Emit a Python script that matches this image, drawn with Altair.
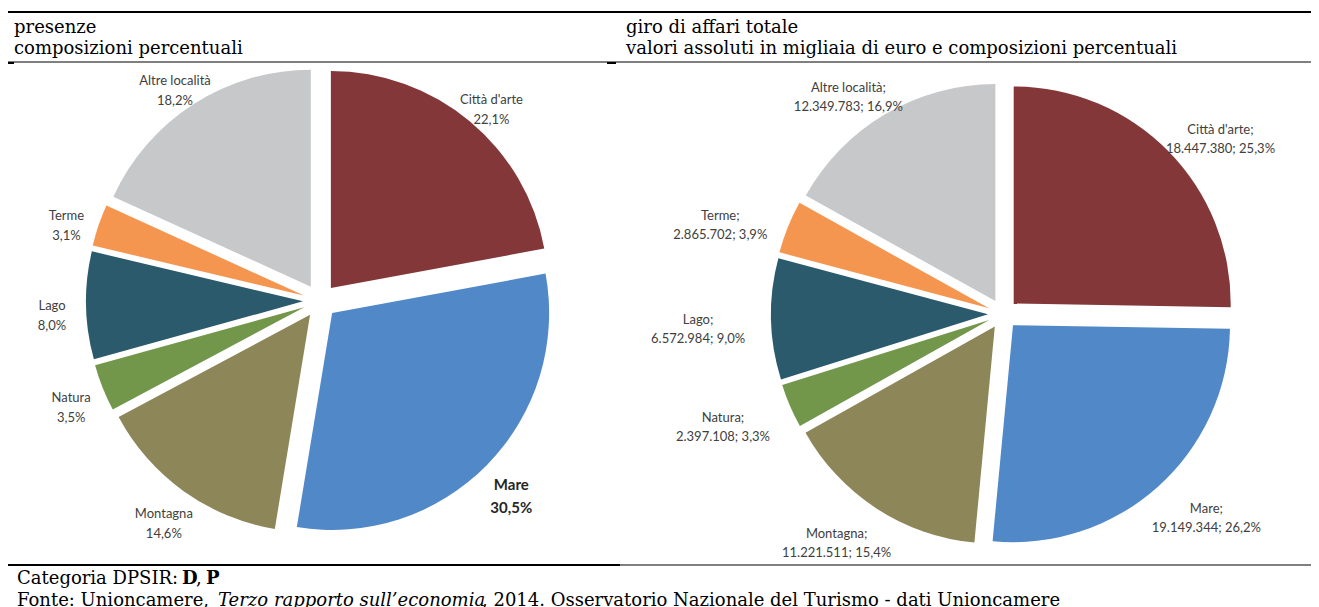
import altair as alt
import pandas as pd

# ---------------- data ----------------
CATEGORIES = ["Città d'arte", "Mare", "Montagna", "Natura", "Lago", "Terme", "Altre località"]
PRESENZE_PCT = [22.1, 30.5, 14.6, 3.5, 8.0, 3.1, 18.2]
GIRO_VALORI = [18447380, 19149344, 11221511, 2397108, 6572984, 2865702, 12349783]
GIRO_PCT = [25.3, 26.2, 15.4, 3.3, 9.0, 3.9, 16.9]

HEAD_LEFT = ["presenze", "composizioni percentuali"]
HEAD_RIGHT = ["giro di affari totale", "valori assoluti in migliaia di euro e composizioni percentuali"]
FOOT_1 = ["Categoria DPSIR:", "D", ",", "P"]
FOOT_2 = ["Fonte: Unioncamere,", "Terzo rapporto sull\u2019economia",
          ", 2014. Osservatorio Nazionale del Turismo - dati Unioncamere"]

# ---------------- styles / layout ----------------
COLORS = ["#843739", "#5189C8", "#8D8659", "#72974B", "#2A5A6B", "#F59650", "#C7C8CA"]
W, H = 1303, 600
M = 8


def P(v):
    return v - M


LEFT_GEO = {"cx": P(320), "cy": P(301), "r": 217, "explode": 17, "lrx": 268, "lry": 262}
RIGHT_GEO = {"cx": P(1003), "cy": P(314), "r": 217, "explode": 15, "lrx": 305, "lry": 262}
SERIF = "DejaVu Serif"
SANS = "Lato"
LABEL_COLOR = "#404040"


def it_num(v):
    return f"{v:,}".replace(",", ".")


def it_pct(p):
    return f"{p:.1f}".replace(".", ",") + "%"


left_df = pd.DataFrame({
    "idx": list(range(len(CATEGORIES))),
    "cat": CATEGORIES,
    "value": PRESENZE_PCT,
    "label": [f"{c}\n{it_pct(p)}" for c, p in zip(CATEGORIES, PRESENZE_PCT)],
})
right_df = pd.DataFrame({
    "idx": list(range(len(CATEGORIES))),
    "cat": CATEGORIES,
    "value": GIRO_VALORI,
    "label": [f"{c};\n{it_num(v)}; {it_pct(p)}" for c, v, p in zip(CATEGORIES, GIRO_VALORI, GIRO_PCT)],
})

color_scale = alt.Scale(domain=CATEGORIES, range=COLORS)


def pie_base(df, g):
    return (
        alt.Chart(df)
        .transform_joinaggregate(total="sum(value)")
        .transform_window(cum="sum(value)", sort=[alt.SortField("idx", order="ascending")], frame=[None, 0])
        .transform_calculate(mid="(datum.cum - datum.value / 2) / datum.total * 2 * PI")
        .transform_calculate(
            ax=f"{g['cx']} + {g['explode']} * sin(datum.mid)",
            ay=f"{g['cy']} - {g['explode']} * cos(datum.mid)",
            lx=f"{g['cx']} + {g['lrx']} * sin(datum.mid)",
            ly=f"{g['cy']} - {g['lry']} * cos(datum.mid)",
        )
    )


def pie_arcs(base, g):
    return base.mark_arc(radius=g["r"]).encode(
        theta=alt.Theta("value:Q", stack=True),
        order=alt.Order("idx:Q", sort="ascending"),
        color=alt.Color("cat:N", scale=color_scale, legend=None),
        x=alt.X("ax:Q", scale=None, axis=None),
        y=alt.Y("ay:Q", scale=None, axis=None),
    )


def pie_labels(base, **kw):
    return base.mark_text(align="center", baseline="middle", lineBreak="\n", font=SANS, **kw).encode(
        x=alt.X("lx:Q", scale=None, axis=None),
        y=alt.Y("ly:Q", scale=None, axis=None),
        text="label:N",
    )


lbase = pie_base(left_df, LEFT_GEO)
rbase = pie_base(right_df, RIGHT_GEO)

left_arcs = pie_arcs(lbase, LEFT_GEO)
right_arcs = pie_arcs(rbase, RIGHT_GEO)
left_labels = pie_labels(lbase.transform_filter("datum.cat != 'Mare'"), fontSize=13,
                         lineHeight=20, color=LABEL_COLOR)
left_mare = pie_labels(lbase.transform_filter("datum.cat == 'Mare'"), fontSize=15, fontWeight="bold",
                       lineHeight=23, color="#262626")
right_labels = pie_labels(rbase, fontSize=13, lineHeight=19, color=LABEL_COLOR)

ONE = pd.DataFrame({"k": [0]})


def rule(x1, x2, y, w):
    return alt.Chart(ONE).mark_rule(color="black", strokeWidth=w).encode(
        x=alt.value(P(x1)), x2=alt.value(P(x2)), y=alt.value(P(y)))


def text(t, x, y, size=18, **kw):
    return alt.Chart(ONE).mark_text(align="left", baseline="alphabetic", font=SERIF, fontSize=size,
                                    color="black", **kw).encode(
        x=alt.value(P(x)), y=alt.value(P(y)), text=alt.value(t))


statics = [
    rule(0, 1319, 12, 2),
    rule(0, 1319, 62, 1),
    rule(4, 14, 63, 2),
    rule(607, 616, 63, 2),
    rule(0, 620, 565, 2),
    rule(620, 1319, 565, 1),
    text(HEAD_LEFT[0], 14, 33),
    text(HEAD_LEFT[1], 14, 54),
    text(HEAD_RIGHT[0], 626, 33),
    text(HEAD_RIGHT[1], 626, 54),
    text(FOOT_1[0], 17, 584),
    text(FOOT_1[1], 182, 584, fontWeight="bold"),
    text(FOOT_1[2], 196, 584),
    text(FOOT_1[3], 206, 584, fontWeight="bold"),
    text(FOOT_2[0], 17, 606),
    text(FOOT_2[1], 218, 606, fontStyle="italic"),
    text(FOOT_2[2], 482, 606),
]

chart = (
    alt.layer(left_arcs, right_arcs, left_labels, left_mare, right_labels, *statics)
    .resolve_scale(theta="independent")
    .properties(width=W, height=H, padding=0, autosize=alt.AutoSizeParams(type="none"))
    .configure_view(stroke=None)
)

chart.save("out.html", embed_options={"renderer": "svg", "actions": False})
